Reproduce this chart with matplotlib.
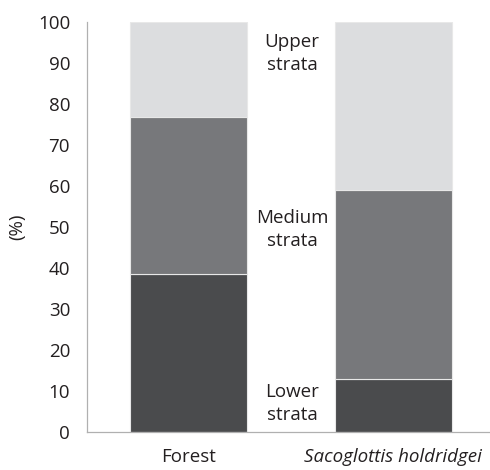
import matplotlib
matplotlib.use("Agg")
import matplotlib.pyplot as plt
import numpy as np

categories = ["Forest", "Sacoglottis holdridgei"]
lower = [38.4, 12.9]
medium = [38.4, 46.1]
upper = [23.2, 41.0]
strata_labels = ["Lower\nstrata", "Medium\nstrata", "Upper\nstrata"]
yticks = list(range(0, 101, 10))

plt.rcParams['font.family'] = ['Open Sans', 'DejaVu Sans']

fig = plt.figure(figsize=(4.9, 4.7), dpi=100)
ax = fig.add_axes([0.177, 0.0815, 0.823, 0.8725])

x = np.arange(len(categories))
w = 0.572
colors = ["#4a4b4d", "#77787b", "#dcdddf"]
bottom = np.zeros(len(categories))
for vals, c in zip([lower, medium, upper], colors):
    ax.bar(x, vals, w, bottom=bottom, color=c, edgecolor="#e8e8e8", linewidth=0.8)
    bottom += np.array(vals)

fs = 13.5
tc = "#231f20"
ax.set_xlim(-0.498, 1.474)
ax.set_ylim(0, 100)
ax.set_yticks(yticks)
ax.set_yticklabels([str(t) for t in yticks], fontsize=fs, color=tc)
ax.set_xticks(x)
ax.set_xticklabels(categories, fontsize=fs, color=tc)
ax.get_xticklabels()[1].set_fontstyle("italic")
ax.tick_params(axis="y", length=0, pad=12)
ax.tick_params(axis="x", length=0, pad=12)
for s in ["top", "right"]:
    ax.spines[s].set_visible(False)
for s in ["left", "bottom"]:
    ax.spines[s].set_color("#b0b0b0")
    ax.spines[s].set_linewidth(0.9)

ax.set_ylabel("(%)", fontsize=fs, color=tc, labelpad=8)

# strata labels in the gap between bars
label_y = [6.9, 49.4, 92.2]
for lab, yy in zip(strata_labels, label_y):
    ax.text(0.506, yy, lab, ha="center", va="center", fontsize=fs,
            color=tc, linespacing=1.35)

fig.savefig("out.png", dpi=100)
